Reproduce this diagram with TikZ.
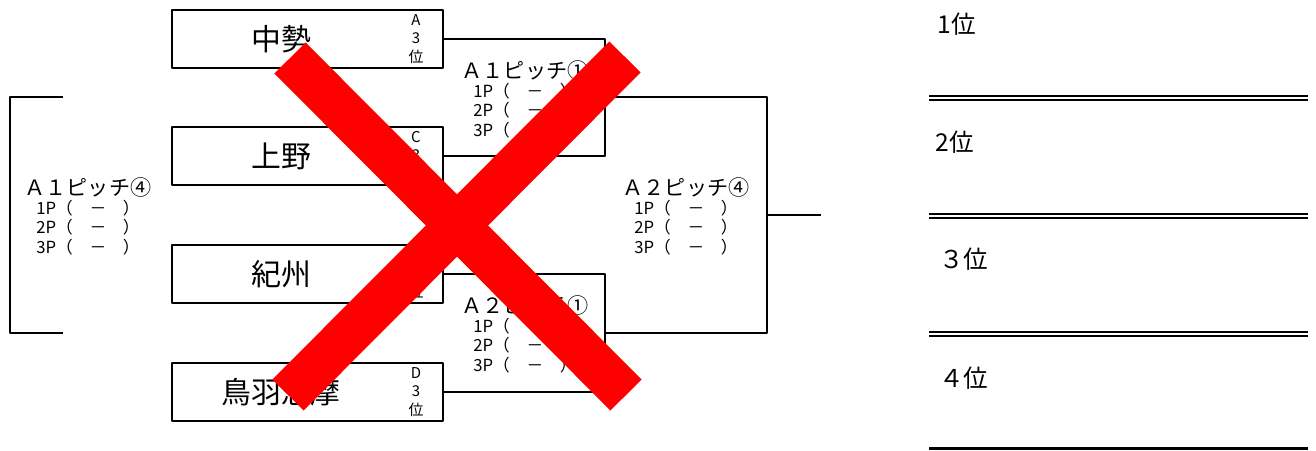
\documentclass[tikz,border=0pt]{standalone}
\usepackage{fontspec}
\setmainfont{Noto Sans CJK JP}
\usetikzlibrary{positioning}

\begin{document}
\begin{tikzpicture}[x=0.02cm, y=-0.02cm, line join=round,
		teambox/.style={draw, line width=1.1pt, minimum width=5.42cm, minimum height=1.16cm, inner sep=0pt},
		teamname/.style={font=\fontsize{17}{17}\selectfont, inner sep=0pt},
		rankmark/.style={font=\fontsize{8.5}{10.5}\selectfont, align=center, inner sep=0pt},
		pitchtitle/.style={font=\fontsize{12}{12}\selectfont, inner sep=0pt},
		pitchscore/.style={font=\fontsize{9.5}{11}\selectfont, align=left, inner sep=0pt},
		bracket/.style={line width=1.1pt},
		placelabel/.style={font=\fontsize{14}{14}\selectfont, anchor=west, inner sep=0pt},
		rule/.style={double, double distance=1pt, line width=1.4pt}]
	\useasboundingbox (0,0) rectangle (1316,450);
	
	% --- teams ---
	\node[teambox] (t1) at (307.5,39) {};
	\node[teambox] (t2) at (307.5,156) {};
	\node[teambox] (t3) at (307.5,274) {};
	\node[teambox] (t4) at (307.5,392) {};
	
	\node[teamname] (n1) at (281,39) {中勢};
	\node[teamname] (n2) at (281,156) {上野};
	\node[teamname] (n3) at (281,274) {紀州};
	\node[teamname] (n4) at (281,392) {鳥羽志摩};
	
	\node[rankmark] (k1) at (416,39) {A\\3\\位};
	\node[rankmark] (k2) at (416,156) {C\\3\\位};
	\node[rankmark] (k3) at (416,274) {B\\3\\位};
	\node[rankmark] (k4) at (416,392) {D\\3\\位};
	
	% --- brackets ---
	\coordinate (a1) at (605,97);
	\coordinate (a2) at (605,333);
	\coordinate (f1) at (767,215);
	\coordinate (fout) at (821,215);
	\draw[bracket] (t1.east) -| (a1) |- (t2.east);
	\draw[bracket] (t3.east) -| (a2) |- (t4.east);
	\draw[bracket] (a1) -| (f1) |- (a2);
	\draw[bracket] (f1) -- (fout);
	
	\coordinate (l1) at (63,97);
	\coordinate (l2) at (63,333);
	\draw[bracket] (l1) -- (10,97) -- (10,333) -- (l2);
	
	% --- pitches ---
	\node[pitchtitle] (p1t) at (525,70) {Ａ１ピッチ①};
	\node[pitchscore, below=1.5pt of p1t] (p1s) {1P（　－　）\\2P（　－　）\\3P（　－　）};
	
	\node[pitchtitle] (p2t) at (525,305) {Ａ２ピッチ①};
	\node[pitchscore, below=1.5pt of p2t] (p2s) {1P（　－　）\\2P（　－　）\\3P（　－　）};
	
	\node[pitchtitle] (p3t) at (88,187) {Ａ１ピッチ④};
	\node[pitchscore, below=1.5pt of p3t] (p3s) {1P（　－　）\\2P（　－　）\\3P（　－　）};
	
	\node[pitchtitle] (p4t) at (686,187) {Ａ２ピッチ④};
	\node[pitchscore, below=1.5pt of p4t] (p4s) {1P（　－　）\\2P（　－　）\\3P（　－　）};
	
	% --- final places ---
	\node[placelabel] (r1) at (937,24) {1位};
	\node[placelabel] (r2) at (935,142) {2位};
	\node[placelabel] (r3) at (939,259) {３位};
	\node[placelabel] (r4) at (939,378) {４位};
	
	\draw[rule] (929,98) -- (1308,98);
	\draw[rule] (929,216) -- (1308,216);
	\draw[rule] (929,334) -- (1308,334);
	\draw[line width=1.5pt] (929,448.5) -- (1308,448.5);
	
	% --- red cross ---
	\coordinate (x1) at (290,58);
	\coordinate (x2) at (626,395);
	\coordinate (x3) at (625,57);
	\coordinate (x4) at (288,395);
	\draw[red, line width=0.88cm] (x1) -- (x2);
	\draw[red, line width=0.88cm] (x3) -- (x4);
\end{tikzpicture}
\end{document}
